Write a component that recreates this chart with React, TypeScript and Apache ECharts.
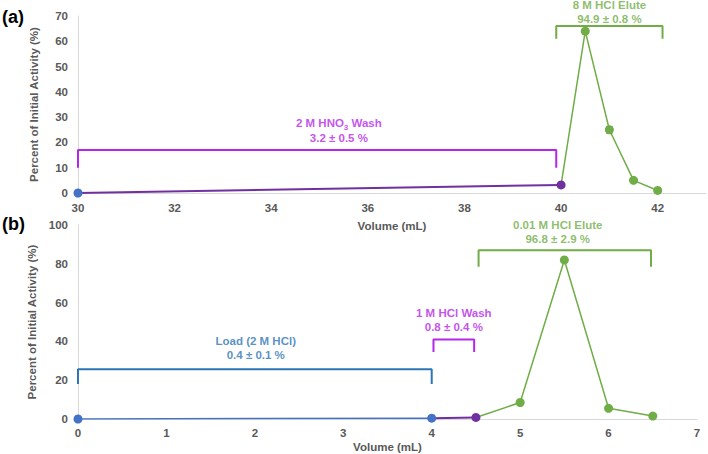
import React, { useEffect, useRef } from "react";
import * as echarts from "echarts";

// ---- data (a) ----
const topLoadPoints = [[30, 0]];
const topWashPoints = [[40, 3.2]];
const topWashLine = [[30, 0], [40, 3.2]];
const topElutePoints = [[40.5, 64], [41, 25], [41.5, 5], [42, 1]];
const topEluteLine = [[40, 3.2], [40.5, 64], [41, 25], [41.5, 5], [42, 1]];
const topErrors = [[40.5, 64, 1.0], [41, 25, 1.3], [41.5, 5, 0.3], [42, 1, 0.2]];

// ---- data (b) ----
const botLoadLine = [[0, 0], [4, 0.4]];
const botWashLine = [[4, 0.4], [4.5, 0.8]];
const botWashPoints = [[4.5, 0.8]];
const botEluteLine = [[4.5, 0.8], [5, 8.5], [5.5, 82], [6, 5.5], [6.5, 1.5]];
const botElutePoints = [[5, 8.5], [5.5, 82], [6, 5.5], [6.5, 1.5]];
const botErrors = [[5.5, 82, 1.0], [5, 8.5, 0.4], [6, 5.5, 0.4]];

// ---- brackets (data coordinates) ----
const topWashBracket = [[30, 10], [30, 17], [39.9, 17], [39.9, 10]];
const topEluteBracket = [[39.9, 61], [39.9, 66], [42.1, 66], [42.1, 61]];
const botLoadBracket = [[0, 18], [0, 25.6], [4, 25.6], [4, 18]];
const botWashBracket = [[4.02, 34.5], [4.02, 41], [4.48, 41], [4.48, 34.5]];
const botEluteBracket = [[4.53, 78.5], [4.53, 87], [6.48, 87], [6.48, 78.5]];

// ---- annotation labels ----
const topWashLabel = ["2 M HNO{s|3} Wash", "3.2 ± 0.5 %"];
const topEluteLabel = ["8 M HCl Elute", "94.9 ± 0.8 %"];
const botLoadLabel = ["Load (2 M HCl)", "0.4 ± 0.1 %"];
const botWashLabel = ["1 M HCl Wash", "0.8 ± 0.4 %"];
const botEluteLabel = ["0.01 M HCl Elute", "96.8 ± 2.9 %"];

const GREEN = "#70AD47";
const BLUE = "#4472C4";
const PURPLE = "#7030A0";
const MAGENTA = "#B526E8";
const BRACKET_BLUE = "#2E75B6";
const FONT = "'Liberation Sans', Arial, sans-serif";
const TICK = "#595959";

export default function App() {
  const ref = useRef<HTMLDivElement>(null);
  useEffect(() => {
    const chart = echarts.init(ref.current!, null, { renderer: "svg" });

    const lineS = (data: number[][], color: string, idx: number, width = 2, z = 2) => ({
      type: "line",
      data,
      xAxisIndex: idx,
      yAxisIndex: idx,
      showSymbol: false,
      symbol: "none",
      lineStyle: { color, width },
      silent: true,
      z,
    });
    const pts = (data: number[][], color: string, idx: number) => ({
      type: "scatter",
      data,
      xAxisIndex: idx,
      yAxisIndex: idx,
      symbol: "circle",
      symbolSize: 9,
      itemStyle: { color, opacity: 1 },
      silent: true,
      z: 5,
    });
    const bracket = (data: number[][], color: string, idx: number) => ({
      type: "line",
      data,
      xAxisIndex: idx,
      yAxisIndex: idx,
      showSymbol: false,
      symbol: "none",
      lineStyle: { color, width: 2 },
      silent: true,
      z: 3,
    });
    const label = (x: number, y: number, lines: string[], color: string, idx: number, distance: number) => ({
      type: "scatter",
      data: [[x, y]],
      xAxisIndex: idx,
      yAxisIndex: idx,
      symbolSize: 0,
      silent: true,
      z: 6,
      label: {
        show: true,
        position: "top",
        distance,
        formatter: lines.map((l) => "{a|" + l.replace("{s|3}", "}{s|3}{a|") + "}").join("\n"),
        rich: {
          a: { color, fontFamily: FONT, fontWeight: "bold", fontSize: 11.5, lineHeight: 14 },
          s: { color, fontFamily: FONT, fontWeight: "bold", fontSize: 8, lineHeight: 16, verticalAlign: "bottom" },
        },
        align: "center",
      },
    });
    const errs = (data: number[][], idx: number) => ({
      type: "custom",
      xAxisIndex: idx,
      yAxisIndex: idx,
      data,
      silent: true,
      z: 4,
      renderItem: (params: any, api: any) => {
        const x = api.value(0);
        const y = api.value(1);
        const e = api.value(2);
        const hi = api.coord([x, y + e]);
        const lo = api.coord([x, y - e]);
        const st = { stroke: "#404040", lineWidth: 1.2 };
        return {
          type: "group",
          children: [
            { type: "line", shape: { x1: hi[0], y1: hi[1], x2: lo[0], y2: lo[1] }, style: st },
            { type: "line", shape: { x1: hi[0] - 3, y1: hi[1], x2: hi[0] + 3, y2: hi[1] }, style: st },
            { type: "line", shape: { x1: lo[0] - 3, y1: lo[1], x2: lo[0] + 3, y2: lo[1] }, style: st },
          ],
        };
      },
    });

    const axisLabel = { color: TICK, fontFamily: FONT, fontWeight: "bold", fontSize: 11.5 };
    const nameStyle = { color: TICK, fontFamily: FONT, fontWeight: "bold", fontSize: 11.5 };
    const axisLine = { show: true, lineStyle: { color: "#D9D9D9", width: 1 } };

    chart.setOption({
      animation: false,
      backgroundColor: "#ffffff",
      textStyle: { fontFamily: FONT },
      grid: [
        { left: 78, top: 16, width: 628, height: 177 },
        { left: 78, top: 225, width: 619, height: 200 },
      ],
      xAxis: [
        {
          gridIndex: 0, type: "value", min: 30, max: 43, interval: 2,
          name: "Volume (mL)", nameLocation: "middle", nameGap: 27, nameTextStyle: nameStyle,
          axisLine, axisTick: { show: false }, splitLine: { show: false },
          axisLabel: { ...axisLabel, margin: 9, showMaxLabel: false },
        },
        {
          gridIndex: 1, type: "value", min: 0, max: 7, interval: 1,
          name: "Volume (mL)", nameLocation: "middle", nameGap: 22, nameTextStyle: nameStyle,
          axisLine, axisTick: { show: false }, splitLine: { show: false },
          axisLabel: { ...axisLabel, margin: 8 },
        },
      ],
      yAxis: [
        {
          gridIndex: 0, type: "value", min: 0, max: 70, interval: 10,
          name: "Percent of Initial Activity (%)", nameLocation: "middle", nameGap: 38, nameTextStyle: nameStyle,
          axisLine, axisTick: { show: false }, splitLine: { show: false },
          axisLabel: { ...axisLabel, margin: 10 },
        },
        {
          gridIndex: 1, type: "value", min: 0, max: 100, interval: 20,
          name: "Percent of Initial Activity (%)", nameLocation: "middle", nameGap: 38, nameTextStyle: nameStyle,
          axisLine, axisTick: { show: false }, splitLine: { show: false },
          axisLabel: { ...axisLabel, margin: 10 },
        },
      ],
      graphic: [
        { type: "text", left: 2, top: 8, style: { text: "(a)", font: "bold 18px " + FONT, fill: "#000" } },
        { type: "text", left: 2, top: 215, style: { text: "(b)", font: "bold 18px " + FONT, fill: "#000" } },
      ],
      series: [
        // (a)
        lineS(topWashLine, PURPLE, 0, 2),
        lineS(topEluteLine, GREEN, 0, 1.5),
        errs(topErrors, 0),
        pts(topLoadPoints, BLUE, 0),
        pts(topWashPoints, PURPLE, 0),
        pts(topElutePoints, GREEN, 0),
        bracket(topWashBracket, MAGENTA, 0),
        bracket(topEluteBracket, GREEN, 0),
        label(35.4, 17, topWashLabel, MAGENTA, 0, 5),
        label(41.0, 66, topEluteLabel, GREEN, 0, 0),
        // (b)
        lineS(botLoadLine, BLUE, 1, 1.5),
        lineS(botWashLine, PURPLE, 1, 2),
        lineS(botEluteLine, GREEN, 1, 1.5),
        errs(botErrors, 1),
        pts(botLoadLine, BLUE, 1),
        pts(botWashPoints, PURPLE, 1),
        pts(botElutePoints, GREEN, 1),
        bracket(botLoadBracket, BRACKET_BLUE, 1),
        bracket(botWashBracket, MAGENTA, 1),
        bracket(botEluteBracket, GREEN, 1),
        label(2.01, 25.6, botLoadLabel, BRACKET_BLUE, 1, 7),
        label(4.25, 41, botWashLabel, MAGENTA, 1, 5),
        label(5.425, 87, botEluteLabel, GREEN, 1, 4),
      ],
    });
    return () => chart.dispose();
  }, []);
  return (
    <div
      ref={ref}
      style={{ position: "absolute", left: 0, top: 0, width: 708, height: 454, background: "#fff" }}
    />
  );
}
